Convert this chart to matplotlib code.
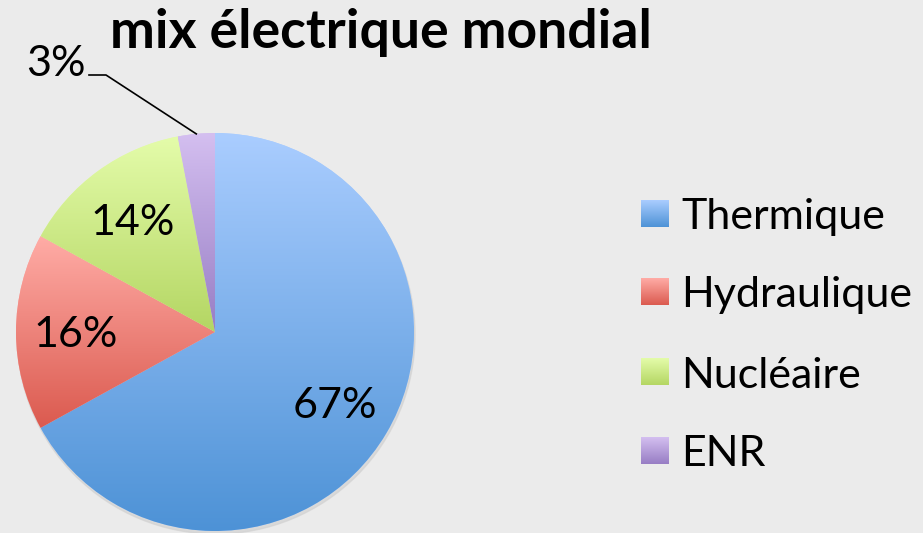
import numpy as np
import matplotlib.pyplot as plt
from matplotlib.colors import LinearSegmentedColormap

plt.rcParams['font.family'] = ['Lato', 'DejaVu Sans']

sources = ['Thermique', 'Hydraulique', 'Nucléaire', 'ENR']
parts = [67, 16, 14, 3]
# couleur haut / bas du dégradé
tops = ['#aacdff', '#ffaca6', '#e4fcaa', '#d4bff0']
bottoms = ['#4d92d6', '#db5a4f', '#b4d663', '#977dc4']
title = 'mix électrique mondial'
bg = '#ebebeb'

W, H = 923, 533
fig = plt.figure(figsize=(W / 100, H / 100), dpi=100, facecolor=bg)
ax = fig.add_axes([0, 0, 1, 1])
ax.set_facecolor(bg)

cx, cy, R = 215, H - 332, 199

# ombre légère
shadow = plt.Circle((cx + 1, cy - 3), R, color='#d2d2d2', alpha=0.7, zorder=0)
ax.add_patch(shadow)

wedges, _ = ax.pie(parts, startangle=90, counterclock=False, center=(cx, cy),
                   radius=R, colors=tops, wedgeprops=dict(linewidth=0))


def gradient(ax, x0, x1, y0, y1, c_top, c_bot, clip=None, z=2):
    cmap = LinearSegmentedColormap.from_list('g', [c_bot, c_top])
    grad = np.linspace(0, 1, 256).reshape(-1, 1)
    im = ax.imshow(grad, cmap=cmap, extent=[x0, x1, y0, y1], origin='lower',
                   aspect='auto', interpolation='bicubic', zorder=z)
    if clip is not None:
        im.set_clip_path(clip)


for w, ct, cb in zip(wedges, tops, bottoms):
    v = w.get_path().vertices
    gradient(ax, v[:, 0].min(), v[:, 0].max(), v[:, 1].min(), v[:, 1].max(),
             ct, cb, clip=w)

# étiquettes
for i, (w, p) in enumerate(zip(wedges, parts)):
    mid = np.deg2rad((w.theta1 + w.theta2) / 2)
    if i < 3:
        d = 0.70 * R
        ax.text(cx + d * np.cos(mid), cy + d * np.sin(mid), f'{p}%',
                ha='center', va='center_baseline', fontsize=31, zorder=5)
    else:
        ex, ey = cx + R * np.cos(mid), cy + R * np.sin(mid)
        ax.plot([ex, 106, 89], [ey, H - 75, H - 75], color='black', lw=1.2,
                zorder=5)
        ax.text(86, H - 60, f'{p}%', ha='right', va='center_baseline',
                fontsize=31, zorder=5)

ax.text(381, H - 48, title, ha='center', va='baseline', fontsize=38.5,
        fontweight='bold')

# légende
rows = [214, 292, 372, 451]
for name, ct, cb, y in zip(sources, tops, bottoms, rows):
    gradient(ax, 641, 669, H - y - 13.5, H - y + 13.5, ct, cb, z=3)
    ax.text(681, H - y, name, ha='left', va='center_baseline', fontsize=31)

ax.set_xlim(0, W)
ax.set_ylim(0, H)
ax.set_aspect('auto')
ax.axis('off')

fig.savefig('out.png', dpi=100, facecolor=bg)
